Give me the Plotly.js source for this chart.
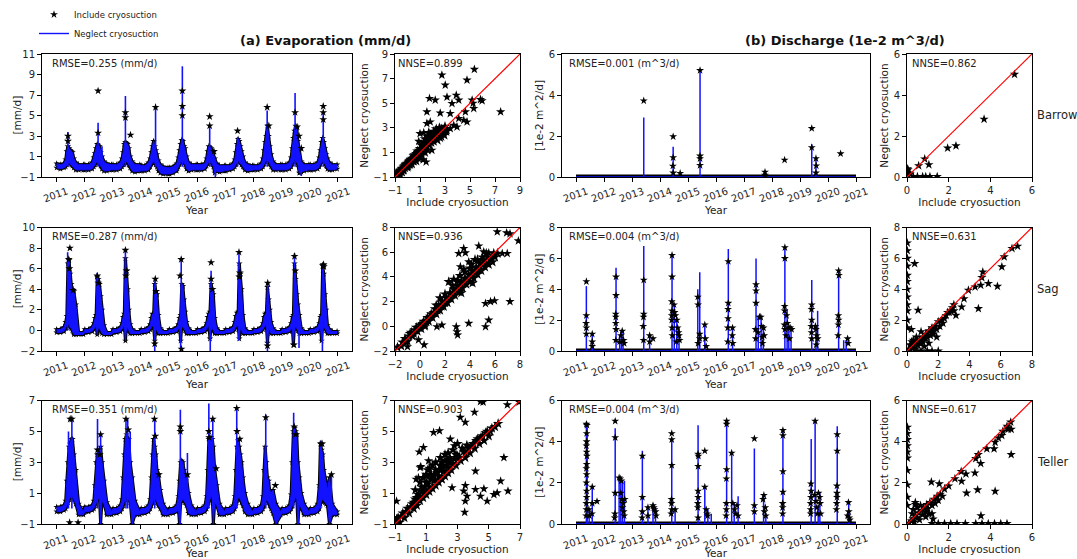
<!DOCTYPE html>
<html><head><meta charset="utf-8">
<script src="https://cdn.plot.ly/plotly-3.0.1.min.js"></script>
<style>html,body{margin:0;padding:0;background:#fff}#chart{width:1077px;height:559px}</style>
</head><body><div id="chart"></div>
<script>
// ---------------- DATA ----------------
const years = [2011,2012,2013,2014,2015,2016,2017,2018,2019,2020];
const yearTicks = [2011,2012,2013,2014,2015,2016,2017,2018,2019,2020,2021];
const sampleFrac = [0.02,0.15,0.28,0.34,0.38,0.42,0.46,0.50,0.54,0.58,0.63,0.70,0.80,0.97];
const sites = ['Barrow','Sag','Teller'];
const rmseEvap = ['RMSE=0.255 (mm/d)','RMSE=0.287 (mm/d)','RMSE=0.351 (mm/d)'];
const rmseQ = ['RMSE=0.001 (m^3/d)','RMSE=0.004 (m^3/d)','RMSE=0.004 (m^3/d)'];
const nnseEvap = ['NNSE=0.899','NNSE=0.936','NNSE=0.903'];
const nnseQ = ['NNSE=0.862','NNSE=0.631','NNSE=0.617'];

// Evaporation upper / lower envelopes per year (mm/d)
const barrowEvapHi = [
 [0.3,0.2,0.3,0.7,1.5,2.0,1.8,1.6,1.5,1.4,0.8,0.4,0.2,0.2],
 [0.2,0.2,0.4,0.9,1.3,1.8,2.2,1.9,2.0,1.4,1.0,0.5,0.3,0.2],
 [0.2,0.2,0.4,0.8,1.4,2.2,2.4,2.3,2.2,1.8,1.0,0.5,0.2,0.2],
 [0.1,0.1,0.4,0.8,1.4,2.0,2.5,2.0,1.6,1.2,0.6,0.2,0.0,-0.1],
 [-0.1,0.0,0.3,0.9,1.6,2.2,2.6,2.5,2.0,1.8,1.0,0.4,0.2,0.2],
 [0.2,0.2,0.3,0.8,1.5,2.0,1.9,1.8,1.5,1.2,0.8,0.3,0.1,0.1],
 [0.1,0.1,0.3,0.7,1.4,2.2,2.7,2.5,2.0,1.5,1.0,0.4,0.2,0.1],
 [0.1,0.1,0.3,0.8,1.6,2.4,3.0,4.0,3.0,2.0,1.2,0.5,0.2,0.2],
 [0.2,0.2,0.4,0.9,1.8,2.8,3.5,4.0,3.8,2.5,1.5,0.5,0.2,0.2],
 [0.2,0.2,0.4,0.9,1.6,2.4,2.8,2.4,1.8,1.2,0.8,0.4,0.2,0.2]];
const barrowEvapLo = [
 [-0.1,-0.2,-0.1,0.0,0.2,0.4,0.4,0.3,0.2,0.1,-0.1,-0.3,-0.3,-0.3],
 [-0.3,-0.3,-0.2,0.0,0.2,0.4,0.5,0.4,0.3,0.1,-0.2,-0.4,-0.4,-0.3],
 [-0.3,-0.3,-0.2,0.0,0.2,0.4,0.5,0.5,0.4,0.2,-0.1,-0.4,-0.5,-0.4],
 [-0.4,-0.4,-0.3,0.0,0.3,0.4,0.5,0.4,0.2,0.0,-0.4,-0.6,-0.7,-0.7],
 [-0.7,-0.6,-0.4,0.0,0.3,0.4,0.6,0.5,0.4,0.2,-0.2,-0.4,-0.3,-0.3],
 [-0.3,-0.3,-0.2,0.1,0.3,0.5,0.5,0.4,0.3,0.0,-0.6,-0.4,-0.5,-0.4],
 [-0.4,-0.3,-0.2,0.0,0.3,0.5,0.6,0.5,0.4,0.2,0.0,-0.3,-0.4,-0.3],
 [-0.3,-0.3,-0.2,0.0,0.3,0.5,0.6,0.6,0.5,0.3,0.0,-0.3,-0.3,-0.3],
 [-0.3,-0.3,-0.2,0.0,0.3,0.5,0.7,0.7,0.5,0.2,-0.6,-0.5,-0.4,-0.3],
 [-0.3,-0.3,-0.2,0.0,0.3,0.5,0.6,0.5,0.3,0.1,-0.2,-0.3,-0.3,-0.2]];
const sagEvapHi = [
 [0.1,0.1,0.3,0.8,1.4,6.5,6.8,5.5,4.5,4.0,3.8,2.5,-0.2,-0.2],
 [0.1,0.1,0.3,0.7,1.2,1.5,5.2,5.0,4.5,3.3,2.0,0.5,-0.2,-0.2],
 [0.1,0.1,0.3,0.7,1.3,1.6,7.0,5.8,4.0,2.0,0.6,0.1,-0.1,-0.1],
 [0.1,0.1,0.3,0.6,1.2,1.6,1.5,4.5,3.8,3.5,1.5,0.2,-0.1,-0.1],
 [0.1,0.1,0.3,0.6,1.2,1.5,4.5,4.3,3.0,1.8,0.8,0.2,-0.1,-0.1],
 [0.1,0.1,0.3,0.7,1.3,1.6,1.8,4.5,4.0,3.5,1.2,0.2,-0.1,-0.1],
 [0.1,0.1,0.3,0.8,1.4,1.7,1.8,6.5,5.5,4.0,1.5,0.2,-0.1,-0.1],
 [0.1,0.1,0.3,0.7,1.3,1.6,1.7,4.2,3.0,2.0,0.8,0.2,-0.1,-0.1],
 [0.1,0.1,0.3,0.7,1.3,1.5,6.5,5.0,3.5,2.5,1.5,0.2,-0.1,-0.1],
 [0.1,0.1,0.3,0.7,1.3,1.5,6.3,5.5,3.5,2.0,0.5,0.1,-0.1,-0.1]];
const sagEvapLo = [
 [-0.2,-0.2,-0.1,0.2,0.5,0.8,0.5,0.3,0.2,0.0,-0.4,-0.4,-0.4,-0.4],
 [-0.2,-0.2,-0.1,0.1,0.3,0.5,-0.4,0.3,0.2,0.0,-0.3,-0.4,-0.4,-0.4],
 [-0.2,-0.2,-0.1,0.1,0.3,0.5,-1.0,0.3,0.2,0.0,-0.3,-0.3,-0.3,-0.3],
 [-0.2,-0.2,-0.1,0.1,0.3,0.5,0.3,-1.0,0.2,0.0,-0.3,-0.3,-0.3,-0.3],
 [-0.2,-0.2,-0.1,0.1,0.3,-1.0,0.4,0.3,0.2,0.0,-0.3,-0.3,-0.3,-0.3],
 [-0.2,-0.2,-0.1,0.1,0.3,0.5,-0.8,0.3,0.2,0.0,-0.3,-0.3,-0.3,-0.3],
 [-0.2,-0.2,-0.1,0.1,0.3,0.5,0.4,-0.8,0.3,0.0,-0.3,-0.3,-0.3,-0.3],
 [-0.2,-0.2,-0.1,0.1,0.3,0.5,0.4,-1.2,0.2,0.0,-0.3,-0.3,-0.3,-0.3],
 [-0.2,-0.2,-0.1,0.1,0.3,-1.4,0.4,0.3,0.2,0.0,-0.3,-0.3,-0.3,-0.3],
 [-0.2,-0.2,-0.1,0.1,0.3,-1.0,0.4,0.3,0.2,0.0,-0.3,-0.3,-0.3,-0.3]];
const tellerEvapHi = [
 [0.1,0.1,0.2,0.5,1.8,3.0,4.0,4.2,4.5,4.5,3.5,2.5,0.3,-0.2],
 [0.1,0.1,0.2,0.5,1.5,3.0,3.5,3.5,3.8,4.0,3.0,1.8,0.4,-0.2],
 [0.0,0.0,0.2,0.6,2.0,3.5,4.5,4.8,4.5,4.5,3.0,2.0,0.5,-0.2],
 [0.0,0.0,0.2,0.6,2.0,3.5,4.5,4.0,3.5,2.5,2.2,1.2,0.3,-0.2],
 [0.0,0.0,0.2,0.8,1.8,3.0,3.1,3.0,2.5,2.0,2.0,1.0,0.2,-0.2],
 [0.0,0.0,0.2,0.8,2.5,4.5,4.6,4.6,4.5,4.0,2.5,1.5,0.3,-0.2],
 [0.0,0.0,0.2,0.8,2.5,4.0,4.4,4.0,3.5,3.0,2.0,1.0,0.3,-0.2],
 [0.0,0.0,0.2,0.8,2.5,4.0,3.0,2.0,1.8,1.2,1.0,1.2,0.3,-0.2],
 [0.0,0.0,0.2,0.9,3.0,5.0,5.2,5.0,4.8,3.0,2.0,1.0,0.3,-0.2],
 [0.0,0.0,0.3,1.5,4.2,3.8,3.5,2.5,2.0,1.5,1.2,2.0,0.3,-0.2]];
const tellerEvapLo = [
 [-0.2,-0.2,-0.1,0.0,0.2,0.4,0.6,0.7,0.8,0.8,0.6,0.3,-0.4,-0.4],
 [-0.2,-0.2,-0.1,0.0,0.2,0.4,0.6,0.7,0.6,-1.0,0.5,0.3,-0.4,-0.4],
 [-0.3,-0.3,-0.2,0.0,0.2,0.4,0.6,0.7,0.7,0.6,0.4,-1.0,-0.4,-0.4],
 [-0.3,-0.3,-0.2,0.0,0.2,0.4,0.6,0.7,0.6,0.4,0.2,0.0,-0.4,-0.4],
 [-0.3,-0.3,-0.2,0.0,-1.0,0.4,0.5,0.6,0.5,0.4,0.2,-0.3,-0.4,-0.4],
 [-0.3,-0.3,-0.2,0.0,0.2,0.5,0.7,0.8,0.7,-1.0,0.4,0.2,-0.4,-0.4],
 [-0.3,-0.3,-0.2,0.0,0.2,0.5,0.7,0.7,0.6,0.4,0.2,-0.2,-0.4,-0.4],
 [-0.3,-0.3,-0.2,0.0,0.2,0.5,0.6,0.5,0.4,0.2,0.0,-0.3,-1.0,-0.4],
 [-0.3,-0.3,-0.2,0.0,0.2,0.5,0.7,0.8,0.6,-1.0,0.3,0.0,-0.4,-0.4],
 [-0.3,-0.3,-0.2,0.0,0.3,0.5,0.6,0.5,0.4,0.3,0.2,-1.0,-0.4,-0.4]];

// Evaporation spikes of the "Neglect" line [time, value]
const barrowEvapSpikes = [[2011.42,3.4],[2012.49,4.3],[2012.63,2.0],[2013.46,6.9],[2014.53,5.7],[2015.48,9.8],[2016.45,3.9],[2016.65,-1.0],[2017.44,2.9],[2018.49,5.5],[2019.48,7.2],[2019.70,-0.9],[2020.48,5.4]];
const sagEvapSpikes = [[2011.41,7.6],[2012.46,5.6],[2013.46,7.8],[2014.52,5.0],[2014.50,-2.2],[2015.44,6.9],[2015.42,-2.2],[2016.50,5.8],[2016.47,-2.2],[2017.49,7.6],[2017.48,-1.0],[2018.51,4.7],[2018.50,-2.2],[2019.46,7.5],[2019.62,-1.7],[2020.47,6.4],[2020.45,-2.2]];
const tellerEvapSpikes = [[2011.44,5.0],[2011.56,5.8],[2012.47,5.8],[2012.58,4.8],[2013.48,5.8],[2013.54,5.8],[2013.63,5.0],[2014.50,5.8],[2015.41,6.4],[2015.40,-1.1],[2015.66,3.6],[2016.42,6.8],[2016.56,5.8],[2017.41,6.5],[2018.44,6.1],[2019.43,6.2],[2019.60,-1.1],[2020.38,4.4],[2020.77,2.1]];
// Extra "Include" stars [time, value]
const barrowEvapStars = [[2011.42,3.0],[2011.42,2.5],[2012.49,7.4],[2012.49,3.3],[2013.46,5.3],[2013.46,4.8],[2013.64,3.1],[2014.53,5.8],[2015.48,7.4],[2015.48,5.9],[2015.48,5.0],[2016.45,4.9],[2016.45,4.0],[2016.60,1.5],[2017.44,3.5],[2018.49,5.8],[2018.55,4.0],[2019.48,5.3],[2019.55,3.9],[2019.62,3.0],[2019.70,1.8],[2020.48,5.9],[2020.48,5.3],[2020.48,4.6]];
const sagEvapStars = [[2011.49,8.0],[2011.45,6.9],[2011.47,6.0],[2011.60,3.9],[2012.46,5.3],[2012.50,4.6],[2013.46,7.8],[2013.50,5.8],[2013.48,5.3],[2014.52,5.0],[2014.55,3.8],[2014.50,-1.3],[2015.40,5.3],[2015.44,6.9],[2015.45,-1.8],[2016.50,6.6],[2016.50,5.0],[2016.55,4.0],[2017.49,7.6],[2017.52,5.6],[2017.50,5.2],[2018.51,4.6],[2018.50,-1.5],[2019.46,7.2],[2019.49,5.8],[2019.44,-1.4],[2020.49,6.4],[2020.50,6.2],[2020.47,6.3]];
const tellerEvapStars = [[2011.50,5.8],[2011.48,-0.9],[2011.78,-0.9],[2011.56,5.8],[2012.47,3.8],[2012.58,4.8],[2012.55,3.5],[2013.48,5.8],[2013.56,5.1],[2014.49,5.8],[2014.52,4.7],[2014.65,2.2],[2015.41,5.3],[2015.41,5.0],[2015.66,2.2],[2016.42,5.0],[2016.43,4.6],[2016.56,5.8],[2016.68,2.6],[2017.41,6.5],[2017.42,5.0],[2017.52,4.5],[2018.44,5.9],[2018.78,1.5],[2019.45,5.3],[2019.50,4.8],[2020.40,4.2],[2020.44,4.2],[2020.77,2.2]];

// Discharge (1e-2 m^3/d): baseline period, spikes of "Neglect", stars of "Include"
const qBaseT = [2011.0, 2021.0];
const qBaseV = [0, 0];
const barrowQSpikes = [[2013.42,2.9],[2014.47,1.48],[2015.43,5.14],[2019.42,1.6],[2019.57,0.95]];
const barrowQStars = [[2013.42,3.72],[2014.47,1.97],[2014.47,0.95],[2014.46,0.54],[2014.47,0.2],[2014.72,0.18],[2015.43,5.2],[2015.43,1.03],[2015.43,0.9],[2015.43,0.57],[2017.75,0.24],[2017.75,0.1],[2018.45,0.83],[2019.42,2.37],[2019.42,1.44],[2019.57,0.9],[2019.58,0.55],[2019.57,0.2],[2020.45,1.14]];
const sagQSpikes = [[2011.37,4.2],[2011.58,1.1],[2012.43,5.4],[2012.56,1.0],[2012.62,1.3],[2012.68,1.3],[2013.42,6.8],[2013.63,1.0],[2014.43,6.2],[2014.51,3.0],[2014.60,2.0],[2014.68,1.5],[2015.35,4.0],[2015.42,5.1],[2015.60,1.7],[2016.44,6.6],[2016.59,1.5],[2017.43,6.0],[2017.51,2.2],[2017.61,2.2],[2017.69,1.6],[2018.46,6.7],[2018.54,2.7],[2018.60,1.5],[2018.68,1.5],[2019.42,4.6],[2019.57,1.6],[2019.63,2.6],[2020.38,5.2],[2020.56,0.7],[2020.65,0.7]];
const sagQStars = [[2011.37,4.5],[2011.37,2.3],[2011.36,1.8],[2011.37,1.5],[2011.37,1.1],[2011.58,1.1],[2011.58,0.6],[2011.58,0.3],
 [2012.43,4.8],[2012.43,3.6],[2012.42,2.4],[2012.42,2.2],[2012.42,1.8],[2012.43,1.4],[2012.42,0.7],[2012.56,0.6],[2012.60,1.0],[2012.65,1.3],[2012.70,0.7],[2012.72,0.5],
 [2013.42,4.6],[2013.42,2.4],[2013.41,2.2],[2013.40,1.6],[2013.41,0.7],[2013.63,1.0],[2013.63,0.6],[2013.75,0.8],
 [2014.43,6.2],[2014.43,4.8],[2014.42,3.2],[2014.43,2.6],[2014.42,2.3],[2014.42,2.0],[2014.43,1.5],[2014.44,1.0],[2014.50,3.0],[2014.52,2.5],[2014.55,2.3],[2014.60,2.0],[2014.63,1.5],[2014.66,1.2],[2014.68,1.0],[2014.70,0.7],[2014.58,0.6],
 [2015.35,3.5],[2015.36,3.0],[2015.36,0.5],[2015.42,1.1],[2015.42,0.8],[2015.60,1.7],[2015.62,0.8],[2015.65,0.3],
 [2016.44,5.8],[2016.44,3.1],[2016.43,2.7],[2016.43,2.1],[2016.42,1.5],[2016.42,0.6],[2016.59,1.5],[2016.58,1.0],[2016.60,0.5],
 [2017.43,4.3],[2017.43,3.9],[2017.43,3.1],[2017.41,1.4],[2017.42,0.8],[2017.50,1.2],[2017.55,2.2],[2017.60,2.2],[2017.63,1.6],[2017.65,0.9],[2017.70,1.5],[2017.72,1.0],[2017.66,0.5],
 [2018.46,6.7],[2018.46,6.0],[2018.45,2.9],[2018.45,2.6],[2018.44,1.7],[2018.46,1.4],[2018.50,1.0],[2018.52,2.3],[2018.55,1.8],[2018.60,1.5],[2018.65,1.5],[2018.70,1.4],[2018.62,0.8],
 [2019.42,3.0],[2019.41,2.7],[2019.42,2.0],[2019.40,1.6],[2019.41,1.2],[2019.42,0.8],[2019.55,1.6],[2019.57,1.4],[2019.60,1.0],[2019.63,0.8],[2019.58,0.4],
 [2020.38,5.2],[2020.39,4.9],[2020.37,2.3],[2020.38,2.0],[2020.37,1.7],[2020.36,1.0],[2020.70,0.8],[2020.72,0.5]];
const tellerQSpikes = [[2011.37,4.86],[2011.40,4.7],[2011.47,0.7],[2011.58,1.8],[2012.40,4.65],[2012.54,2.25],[2012.60,2.2],[2012.66,2.1],[2012.73,2.1],[2013.37,3.56],[2013.57,0.8],[2013.75,1.0],[2013.84,0.8],[2014.42,4.1],[2014.54,0.7],[2015.36,4.8],[2015.60,1.8],[2015.71,0.7],[2015.83,0.5],[2016.38,4.78],[2016.56,3.47],[2016.65,1.0],[2016.79,1.35],[2017.37,3.67],[2017.70,1.4],[2017.78,0.4],[2018.39,4.53],[2019.40,4.13],[2019.54,5.0],[2019.65,0.9],[2019.71,1.5],[2020.33,4.75],[2020.74,1.0]];
const tellerQStars = [[2011.37,4.85],[2011.39,4.8],[2011.38,4.4],[2011.38,4.0],[2011.37,3.8],[2011.38,3.5],[2011.39,3.3],[2011.38,2.9],[2011.37,2.7],[2011.38,2.4],[2011.37,2.0],[2011.38,1.6],[2011.38,1.3],[2011.37,1.0],[2011.37,0.7],[2011.36,0.4],[2011.46,0.7],[2011.48,0.4],[2011.58,1.8],[2011.58,1.0],[2011.57,0.5],[2011.75,1.1],
 [2012.40,5.0],[2012.40,4.2],[2012.40,1.5],[2012.39,0.5],[2012.38,0.3],[2012.54,2.25],[2012.58,2.2],[2012.62,2.1],[2012.60,1.5],[2012.64,1.2],[2012.68,1.0],[2012.66,0.8],[2012.70,0.6],[2012.72,0.4],[2012.74,1.2],
 [2013.37,3.3],[2013.37,1.3],[2013.37,0.6],[2013.36,0.3],[2013.57,0.8],[2013.57,0.4],[2013.75,0.9],[2013.78,0.8],[2013.80,0.7],[2013.84,0.6],[2013.86,0.4],
 [2014.42,4.4],[2014.42,4.1],[2014.42,2.85],[2014.41,1.2],[2014.41,1.0],[2014.42,0.7],[2014.40,0.5],[2014.54,0.7],
 [2015.36,3.4],[2015.37,3.3],[2015.36,2.8],[2015.36,1.6],[2015.36,1.3],[2015.35,1.0],[2015.35,0.8],[2015.36,0.3],[2015.60,3.55],[2015.60,1.8],[2015.65,0.7],[2015.68,0.5],[2015.70,0.4],
 [2016.38,5.0],[2016.38,4.85],[2016.38,2.65],[2016.37,2.2],[2016.37,1.0],[2016.37,0.7],[2016.36,0.4],[2016.56,3.45],[2016.60,1.0],[2016.66,0.7],[2016.70,0.5],[2016.75,0.9],[2016.79,0.4],
 [2017.37,4.15],[2017.37,0.9],[2017.37,0.6],[2017.68,1.2],[2017.71,1.4],[2017.73,0.6],[2017.76,0.8],[2017.78,0.4],
 [2018.39,4.55],[2018.39,4.3],[2018.39,2.55],[2018.39,1.55],[2018.38,1.0],[2018.38,0.8],[2018.38,0.5],
 [2019.39,1.95],[2019.40,1.6],[2019.39,1.3],[2019.38,1.0],[2019.38,0.7],[2019.38,0.5],[2019.54,5.0],[2019.52,1.4],[2019.57,1.1],[2019.60,0.8],[2019.62,0.5],[2019.66,1.5],[2019.70,1.3],[2019.72,1.0],[2019.74,0.5],
 [2020.33,4.35],[2020.33,3.55],[2020.32,1.85],[2020.32,1.5],[2020.32,1.3],[2020.31,1.0],[2020.30,0.7],[2020.70,0.4],[2020.73,1.05],[2020.74,0.6],[2020.76,0.3],[2020.78,0.2]];

// Scatter: [Include, Neglect] — dense core and scattered points
const barrowEvapCore = [[-0.95,-0.9],[-0.9,-0.95],[-0.85,-0.8],[-0.8,-0.7],[-0.75,-0.85],[-0.7,-0.6],[-0.6,-0.65],[-0.55,-0.45],[-0.5,-0.55],[-0.4,-0.3],[-0.35,-0.45],[-0.3,-0.2],[-0.2,-0.25],[-0.15,0.0],[-0.1,-0.15],[0.0,0.1],[0.05,-0.1],[0.1,0.2],[0.2,0.05],[0.25,0.4],[0.3,0.2],[0.4,0.5],[0.45,0.3],[0.5,0.7],[0.6,0.45],[0.7,0.9],[0.75,0.6],[0.8,1.1],[0.9,0.8],[1.0,1.3],[1.05,0.9],[1.1,1.6],[1.2,1.1],[1.3,1.8],[1.35,1.3],[1.4,2.1],[1.5,1.5],[1.6,2.3],[1.65,1.7],[1.7,2.6],[1.8,1.9],[1.9,2.4],[2.0,2.0],[2.1,2.7],[2.2,2.2],[2.3,2.9],[2.4,2.3],[2.5,2.6],[2.6,2.2],[2.7,2.9],[2.8,2.5],[3.0,3.1],[3.1,2.7],
 [-0.9,-0.75],[-0.8,-0.9],[-0.65,-0.75],[-0.6,-0.5],[-0.45,-0.6],[-0.45,-0.35],[-0.3,-0.4],[-0.25,-0.1],[-0.1,0.05],[0.0,-0.2],[0.15,0.0],[0.15,0.3],[0.3,0.45],[0.35,0.05],[0.5,0.3],[0.55,0.8],[0.65,0.55],[0.7,0.3],[0.85,0.95],[0.85,0.55],[0.95,1.15],[1.0,0.6],[1.15,1.3],[1.15,0.8],[1.3,1.5],[1.4,1.0],[1.45,1.8],[1.6,1.2],[1.55,2.0],[1.75,1.6],[1.75,2.2],[1.9,1.8],[2.0,2.4],[2.1,1.9],[2.25,2.5],[2.4,2.0],[2.55,3.0],[2.7,2.3],[2.9,2.8],[2.95,2.4]];
const barrowEvapScatter = [[1.25,0.4],[0.9,1.9],[1.3,2.6],[2.75,7.29],[3.02,6.47],[5.35,7.75],[4.76,6.88],[7.45,4.3],[1.76,5.39],[2.22,5.25],[3.16,5.5],[3.9,5.65],[4.1,5.25],[3.56,4.98],[1.55,4.3],[2.62,4.2],[3.42,4.16],[4.63,4.3],[5.3,4.57],[5.84,5.3],[5.97,5.2],[5.17,5.25],[5.25,5.0],[4.1,3.76],[4.5,3.62],[4.76,3.48],[3.7,3.2],[3.96,3.07],[3.16,2.8],[3.42,2.94],[1.0,2.53],[1.55,3.35],[1.82,3.48],[1.68,2.0],[1.95,1.18],[1.49,0.22],[1.14,1.18]];
const sagEvapCore = [[-1.5,-1.6],[-1.2,-1.0],[-1.0,-1.2],[-0.8,-0.6],[-0.6,-0.8],[-0.4,-0.3],[-0.2,-0.4],[0.0,0.1],[0.1,-0.2],[0.3,0.4],[0.4,0.1],[0.6,0.7],[0.7,0.4],[0.9,1.0],[1.0,0.7],[1.2,1.4],[1.3,1.0],[1.5,1.7],[1.6,1.3],[1.8,2.0],[1.9,1.6],[2.1,2.3],[2.2,1.9],[2.4,2.7],[2.5,2.2],[2.7,3.0],[2.8,2.5],[3.0,3.3],[3.1,2.8],[3.3,3.6],[3.4,3.1],[3.6,3.9],[3.7,3.4],[3.9,4.2],[4.0,3.6],[4.2,4.5],[4.3,3.9],[4.5,4.8],[4.6,4.2],[4.8,5.1],[4.9,4.5],[5.1,5.3],[5.2,4.8],[5.4,5.6],[5.5,5.0],[5.7,5.5],[5.8,5.2],[6.0,5.6],[2.3,3.6],[2.7,3.8],[3.2,4.1],[3.5,4.6],[1.6,2.3],[4.4,5.4],[4.1,5.0],
 [-1.8,-1.7],[-1.4,-1.3],[-1.1,-1.3],[-0.9,-0.8],[-0.7,-0.5],[-0.5,-0.6],[-0.3,-0.1],[-0.1,-0.1],[0.2,0.2],[0.5,0.4],[0.8,0.8],[1.1,1.1],[1.4,1.3],[1.7,1.7],[2.0,1.9],[2.3,2.3],[2.6,2.6],[2.9,2.9],[3.2,3.1],[3.5,3.5],[3.8,3.8],[4.1,4.1],[4.4,4.3],[4.7,4.6],[5.0,5.0],[5.3,5.1],[5.6,5.4],[5.9,5.9],[6.2,5.9],[2.0,2.6],[2.6,3.3],[3.0,3.7],[3.6,4.4],[4.0,4.7],[4.6,5.4],[5.0,5.6],[5.3,5.9],[1.3,1.7],[3.3,2.7],[4.2,3.5]];
const sagEvapScatter = [[6.18,7.65],[6.93,7.57],[7.2,7.5],[7.87,6.92],[6.98,5.9],[6.58,5.9],[3.5,6.3],[3.1,5.9],[3.63,5.95],[4.7,6.5],[5.1,6.03],[5.5,5.95],[3.23,4.82],[3.9,5.22],[5.24,1.85],[5.64,2.0],[5.96,2.07],[7.2,2.0],[2.9,-0.03],[2.96,-0.44],[3.01,-0.7],[3.9,0.24],[5.5,0.5],[5.24,-0.03],[1.35,-0.03],[1.75,0.1],[0.41,-0.03],[-0.12,-1.1],[0.33,-1.5],[-1.0,-1.65],[1.62,2.26],[1.75,1.58]];
const tellerEvapCore = [[-0.95,-0.9],[-0.8,-0.6],[-0.7,-0.9],[-0.5,-0.3],[-0.4,-0.6],[-0.2,0.0],[-0.1,-0.3],[0.1,0.3],[0.2,0.0],[0.3,0.6],[0.4,0.2],[0.5,0.9],[0.6,0.5],[0.7,1.1],[0.8,0.7],[0.9,1.4],[1.0,0.9],[1.1,1.6],[1.2,1.1],[1.3,1.9],[1.4,1.3],[1.5,2.1],[1.6,1.5],[1.7,2.3],[1.8,1.7],[1.9,2.5],[2.0,1.9],[2.1,2.7],[2.2,2.1],[2.3,2.8],[2.4,2.3],[2.5,3.0],[2.6,2.5],[2.8,3.2],[2.9,2.8],[3.0,3.4],[3.2,3.1],[3.4,3.7],[3.5,3.3],[3.7,3.9],[3.8,3.6],[4.0,4.2],[4.1,3.9],[4.3,4.5],[4.4,4.2],[4.6,4.7],[4.7,4.4],[4.9,5.0],[5.0,4.7],[5.2,5.2],[0.6,1.7],[1.0,2.2],[1.4,2.8],[1.9,3.3],[2.4,3.6],[0.3,1.2],[1.2,2.6],[2.0,3.0],
 [-0.9,-0.7],[-0.6,-0.5],[-0.3,-0.2],[0.0,0.1],[0.2,0.4],[0.4,0.7],[0.6,0.8],[0.7,1.4],[0.9,1.1],[1.0,1.7],[1.2,1.4],[1.3,2.2],[1.5,1.8],[1.6,2.5],[1.8,2.1],[1.9,2.8],[2.1,2.4],[2.2,3.1],[2.4,2.7],[2.5,3.3],[2.7,2.9],[2.9,3.5],[3.1,3.3],[3.3,3.9],[3.5,3.6],[3.6,4.1],[3.9,4.0],[4.2,4.4],[4.5,4.6],[4.8,4.9],[5.1,5.0],[5.4,5.3],[5.6,5.5],[0.8,2.0],[1.1,2.5],[1.6,3.0],[2.2,3.5],[2.7,3.8],[3.0,4.2]];
const tellerEvapScatter = [[4.47,6.93],[4.64,6.9],[6.19,6.72],[6.94,6.9],[3.18,5.91],[4.09,6.24],[3.5,5.59],[1.85,5.04],[1.47,4.93],[0.82,3.96],[0.55,3.67],[1.15,3.09],[0.61,2.65],[0.65,2.72],[1.04,2.11],[0.5,2.0],[0.35,1.9],[1.36,1.89],[2.0,1.89],[2.54,4.5],[2.8,4.07],[2.33,3.2],[5.97,3.3],[5.76,1.78],[4.15,2.43],[2.65,1.35],[3.5,1.5],[3.4,1.13],[3.61,0.8],[3.5,0.48],[4.15,1.24],[4.69,1.28],[4.47,0.8],[4.9,0.48],[5.33,0.91],[5.54,1.02],[6.23,1.13],[3.46,-0.24],[-0.9,0.48]];
const barrowQScatter = [[5.16,5.01],[3.7,2.82],[2.35,1.52],[1.95,1.41],[1.05,0.6],[0.85,0.88],[0.56,0.55],[0.1,0.2],[0.05,0.35],[0.15,0.15],[0.05,0.1],[0.0,0.05],[0.3,0.02],[0.5,0.02],[0.75,0.02],[0.9,0.02],[1.1,0.02],[1.45,0.02],[0.02,0.4]];
const sagQScatter = [[7.08,6.79],[6.72,6.64],[6.22,6.1],[6.07,5.45],[4.85,5.12],[4.79,4.76],[5.21,4.37],[5.79,4.19],[4.72,4.26],[4.36,4.15],[3.93,3.94],[3.65,3.39],[4.57,2.75],[3.5,2.85],[3.13,2.31],[3.0,3.0],[2.8,2.6],[2.6,2.5],[0.49,5.66],[0.71,2.64],[0.28,1.4],
 [0.02,7.0],[0.02,6.5],[0.02,6.0],[0.02,5.5],[0.02,4.9],[0.02,4.5],[0.02,4.0],[0.02,3.5],[0.02,3.0],[0.02,2.6],[0.02,2.0],[0.02,1.5],
 [0.1,0.1],[0.2,0.05],[0.3,0.25],[0.4,0.2],[0.5,0.45],[0.5,0.1],[0.6,0.5],[0.7,0.35],[0.8,0.7],[0.9,0.5],[1.0,0.9],[1.0,0.6],[1.1,0.8],[1.2,1.1],[1.3,0.9],[1.4,1.3],[1.5,1.0],[1.6,1.5],[1.7,1.3],[1.8,1.6],[1.9,1.4],[2.0,1.9],[2.1,1.6],[2.2,2.0],[2.3,1.8],[2.5,2.3],[2.7,2.5],[2.9,2.8],[3.0,2.6],[0.9,1.25],[0.3,0.6],[0.6,0.9],[1.4,0.5],[1.9,0.9],[1.1,0.3],[0.6,0.0],[0.9,0.0],[1.3,0.0],[1.6,0.0],[2.0,0.0],[0.4,0.7],[0.2,0.4],[1.5,1.3],[1.2,0.8],[0.7,0.6],[1.7,1.1],[2.4,2.1]];
const tellerQScatter = [[4.84,4.67],[4.85,4.6],[4.98,4.95],[4.8,4.75],[5.0,4.6],[4.6,4.5],[4.55,4.3],[4.39,4.18],[4.23,3.97],[4.18,3.65],[3.83,3.65],[5.0,3.37],[3.42,3.37],[3.3,3.18],[3.54,2.94],[3.26,2.48],[2.83,2.43],[2.6,2.55],[2.62,2.08],[2.3,2.2],[1.17,2.04],[1.55,1.95],[2.86,1.5],[3.39,1.66],[4.23,1.59],[3.55,0.4],[1.25,0.24],
 [1.2,0.02],[1.5,0.02],[1.8,0.02],[2.1,0.02],[2.4,0.02],[2.8,0.02],[3.3,0.02],[3.6,0.02],[3.9,0.02],[4.2,0.02],[4.5,0.02],[4.8,0.02],
 [0.02,4.7],[0.02,4.4],[0.02,4.1],[0.02,3.8],[0.02,3.5],[0.02,3.2],[0.02,2.6],[0.02,1.9],[0.02,1.3],[0.02,0.9],
 [0.1,0.05],[0.2,0.15],[0.3,0.25],[0.35,0.1],[0.4,0.4],[0.5,0.3],[0.55,0.55],[0.6,0.2],[0.7,0.65],[0.75,0.45],[0.8,0.8],[0.9,0.6],[0.95,0.95],[1.0,0.75],[1.1,1.05],[1.2,0.9],[1.3,1.2],[1.35,1.0],[1.45,1.35],[1.5,1.15],[1.6,1.45],[1.7,1.35],[1.8,1.7],[2.0,1.85],[0.4,1.05],[0.4,0.95],[0.5,0.8],[0.3,0.7],[0.9,0.35],[1.2,0.5],[0.65,0.9],[1.05,0.5],[0.25,0.5]];

// Axis ranges and ticks
const evapTsRange = [[-1,11],[-2,10],[-1,7]];
const evapTsTicks = [[-1,1,3,5,7,9,11],[-2,0,2,4,6,8,10],[-1,1,3,5,7]];
const evapScRange = [[-1,9],[-2,8],[-1,7]];
const evapScTicks = [[-1,1,3,5,7,9],[-2,0,2,4,6,8],[-1,1,3,5,7]];
const qRange = [[0,6],[0,8],[0,6]];
const qTicks = [[0,2,4,6],[0,2,4,6,8],[0,2,4,6]];

// ---------------- BUILD ----------------
const W = 1077, H = 559;
const colsPx = [[42,352],[395,520],[562,870],[907,1032]];
const rowsPx = [[54,177],[227.5,351],[400.5,524]];
const BLUE = 'rgb(18,18,255)';
const FONT = 'DejaVu Sans, Liberation Sans, sans-serif';
const traces = [];
const layout = {
  width: W, height: H, margin: {l:0,r:0,t:0,b:0},
  paper_bgcolor: '#fff', plot_bgcolor: '#fff',
  font: {family: FONT, size: 10, color: '#222'},
  showlegend: true,
  legend: {x: 34/W, y: 1, xanchor: 'left', yanchor: 'top', traceorder: 'normal', font: {size: 8.5, color: '#222'}, bgcolor: 'rgba(0,0,0,0)', tracegroupgap: 0, itemwidth: 30},
  annotations: [], hovermode: false
};

function axCommon(extra) {
  return Object.assign({
    showline: true, mirror: true, linecolor: '#000', linewidth: 1,
    ticks: 'outside', ticklen: 4, tickwidth: 1, tickcolor: '#000',
    showgrid: false, zeroline: false, tickfont: {size: 10, color: '#222'},
    fixedrange: true
  }, extra);
}

let axIdx = 0;
function makeAxes(row, col, xopt, yopt) {
  axIdx++;
  const s = axIdx === 1 ? '' : String(axIdx);
  const [l, r] = colsPx[col], [t, b] = rowsPx[row];
  layout['xaxis' + s] = axCommon(Object.assign({domain: [l/W, r/W], anchor: 'y' + s}, xopt));
  layout['yaxis' + s] = axCommon(Object.assign({domain: [1 - b/H, 1 - t/H], anchor: 'x' + s}, yopt));
  return {xaxis: 'x' + s, yaxis: 'y' + s};
}

function starTrace(ax, pts, size) {
  return Object.assign({x: pts.map(p => p[0]), y: pts.map(p => p[1]), mode: 'markers',
    marker: {symbol: 'star', size: size || 6, color: '#000', line: {width: 0}}, showlegend: false, hoverinfo: 'skip', cliponaxis: true}, ax);
}
function spikeTrace(ax, spikes, w) {
  const x = [], y = [];
  spikes.forEach(([t, v]) => { x.push(t, t, null); y.push(0, v, null); });
  return Object.assign({x, y, mode: 'lines', line: {color: BLUE, width: w || 1.4}, showlegend: false, hoverinfo: 'skip'}, ax);
}

function yearAxis(title) {
  return {range: [2010.5, 2021.5], tickvals: yearTicks, ticktext: yearTicks.map(String), tickangle: -20,
          ticklabelshift: 11, title: {text: title, font: {size: 10.5}, standoff: 1}};
}

const evapHi = [barrowEvapHi, sagEvapHi, tellerEvapHi];
const evapLo = [barrowEvapLo, sagEvapLo, tellerEvapLo];
const evapSpikes = [barrowEvapSpikes, sagEvapSpikes, tellerEvapSpikes];
const evapStars = [barrowEvapStars, sagEvapStars, tellerEvapStars];
const evapCore = [barrowEvapCore, sagEvapCore, tellerEvapCore];
const evapScatter = [barrowEvapScatter, sagEvapScatter, tellerEvapScatter];
const qSpikes = [barrowQSpikes, sagQSpikes, tellerQSpikes];
const qStars = [barrowQStars, sagQStars, tellerQStars];
const qScatter = [barrowQScatter, sagQScatter, tellerQScatter];

for (let r = 0; r < 3; r++) {
  const rowMid = 1 - (rowsPx[r][0] + rowsPx[r][1]) / 2 / H;
  // ---- Evaporation time series
  let ax = makeAxes(r, 0, yearAxis('Year'), {range: evapTsRange[r], tickvals: evapTsTicks[r]});
  layout.annotations.push({xref: 'paper', yref: 'paper', x: 17/W, y: rowMid, xanchor: 'center', yanchor: 'middle',
    text: '[mm/d]', textangle: -90, showarrow: false, font: {size: 10.5, color: '#222'}});
  const xs = [], his = [], los = [];
  years.forEach((yr, i) => sampleFrac.forEach((f, j) => { xs.push(yr + f); his.push(evapHi[r][i][j]); los.push(evapLo[r][i][j]); }));
  [his, los].forEach(arr => traces.push(Object.assign({x: xs, y: arr, mode: 'lines+markers', line: {color: '#000', width: 3},
     marker: {symbol: 'star', size: 5, color: '#000'}, showlegend: false, hoverinfo: 'skip'}, ax)));
  traces.push(Object.assign({x: xs, y: los, mode: 'lines', line: {color: BLUE, width: 1}, showlegend: false, hoverinfo: 'skip'}, ax));
  traces.push(Object.assign({x: xs, y: his, mode: 'lines', fill: 'tonexty', fillcolor: BLUE, line: {color: BLUE, width: 1}, showlegend: false, hoverinfo: 'skip'}, ax));
  traces.push(spikeTrace(ax, evapSpikes[r], 1.6));
  traces.push(starTrace(ax, evapStars[r], 6));
  layout.annotations.push({xref: ax.xaxis + ' domain', yref: ax.yaxis + ' domain', x: 0.025, y: 0.985, xanchor: 'left', yanchor: 'top',
    text: rmseEvap[r], showarrow: false, font: {size: 10, color: '#222'}});

  // ---- Evaporation scatter
  ax = makeAxes(r, 1, {range: evapScRange[r], tickvals: evapScTicks[r], title: {text: 'Include cryosuction', font: {size: 10.5}, standoff: 1}},
    {range: evapScRange[r], tickvals: evapScTicks[r], title: {text: 'Neglect cryosuction', font: {size: 10.5}, standoff: 2}});
  traces.push(starTrace(ax, evapCore[r], 8));
  traces.push(starTrace(ax, evapScatter[r], 7));
  traces.push(Object.assign({x: evapScRange[r], y: evapScRange[r], mode: 'lines', line: {color: 'rgb(255,0,0)', width: 1.2}, showlegend: false, hoverinfo: 'skip'}, ax));
  layout.annotations.push({xref: ax.xaxis + ' domain', yref: ax.yaxis + ' domain', x: 0.01, y: 0.985, xanchor: 'left', yanchor: 'top',
    text: nnseEvap[r], showarrow: false, font: {size: 10, color: '#222'}});

  // ---- Discharge time series
  ax = makeAxes(r, 2, yearAxis('Year'),
    {range: qRange[r], tickvals: qTicks[r], title: {text: '[1e-2 m^2/d]', font: {size: 10.5}, standoff: 2}});
  traces.push(Object.assign({x: qBaseT, y: qBaseV, mode: 'lines', line: {color: '#000', width: 5}, showlegend: false, hoverinfo: 'skip'}, ax));
  traces.push(Object.assign({x: qBaseT, y: qBaseV, mode: 'lines', line: {color: BLUE, width: 1.5}, showlegend: false, hoverinfo: 'skip'}, ax));
  traces.push(spikeTrace(ax, qSpikes[r], 1.5));
  traces.push(starTrace(ax, qStars[r], 6));
  layout.annotations.push({xref: ax.xaxis + ' domain', yref: ax.yaxis + ' domain', x: 0.015, y: 0.985, xanchor: 'left', yanchor: 'top',
    text: rmseQ[r], showarrow: false, font: {size: 10, color: '#222'}});

  // ---- Discharge scatter
  ax = makeAxes(r, 3, {range: qRange[r], tickvals: qTicks[r], title: {text: 'Include cryosuction', font: {size: 10.5}, standoff: 1}},
    {range: qRange[r], tickvals: qTicks[r], title: {text: 'Neglect cryosuction', font: {size: 10.5}, standoff: 2}});
  traces.push(starTrace(ax, qScatter[r], 7));
  traces.push(Object.assign({x: qRange[r], y: qRange[r], mode: 'lines', line: {color: 'rgb(255,0,0)', width: 1.2}, showlegend: false, hoverinfo: 'skip'}, ax));
  layout.annotations.push({xref: ax.xaxis + ' domain', yref: ax.yaxis + ' domain', x: 0.02, y: 0.985, xanchor: 'left', yanchor: 'top',
    text: nnseQ[r], showarrow: false, font: {size: 10, color: '#222'}});

  layout.annotations.push({xref: 'paper', yref: 'paper', x: 1035/W, y: rowMid,
    xanchor: 'left', yanchor: 'middle', text: sites[r], showarrow: false, font: {size: 11.5, color: '#222'}});
}

layout.annotations.push({xref: 'paper', yref: 'paper', x: 325/W, y: 1 - 40/H, xanchor: 'center', yanchor: 'middle',
  text: '<b>(a) Evaporation (mm/d)</b>', showarrow: false, font: {size: 13, color: '#111'}});
layout.annotations.push({xref: 'paper', yref: 'paper', x: 845/W, y: 1 - 40/H, xanchor: 'center', yanchor: 'middle',
  text: '<b>(b) Discharge (1e-2 m^3/d)</b>', showarrow: false, font: {size: 13, color: '#111'}});

// Legend entries
traces.push({x: [null], y: [null], xaxis: 'x', yaxis: 'y', mode: 'markers', name: 'Include cryosuction',
  marker: {symbol: 'star', size: 6, color: '#000'}, showlegend: true, legendrank: 1});
traces.push({x: [null], y: [null], xaxis: 'x', yaxis: 'y', mode: 'lines', name: 'Neglect cryosuction',
  line: {color: BLUE, width: 1.4}, showlegend: true, legendrank: 2});

Plotly.newPlot('chart', traces, layout, {staticPlot: true, displayModeBar: false});
</script>
</body></html>
